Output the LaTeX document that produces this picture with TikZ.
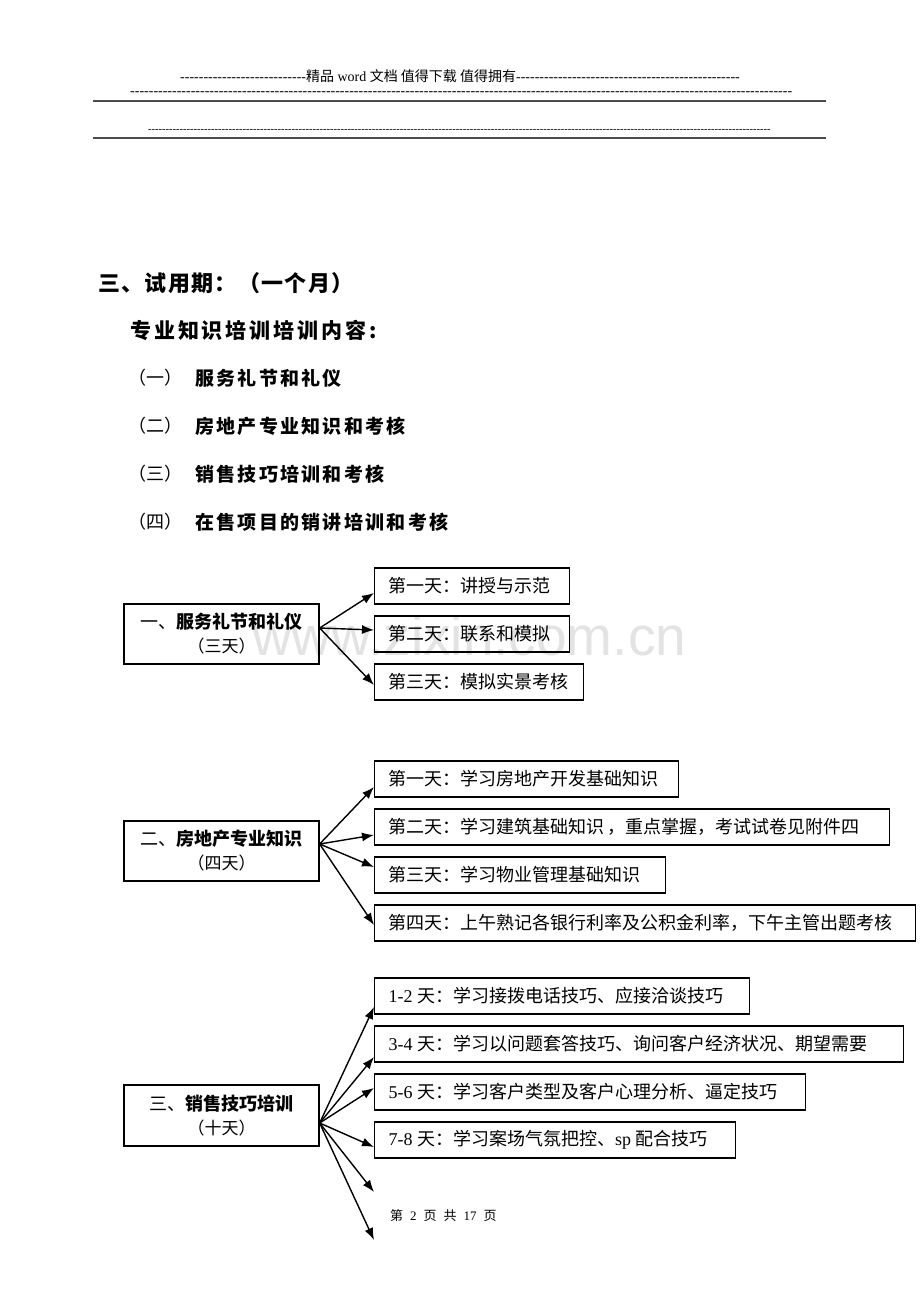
\documentclass[tikz,border=0pt]{standalone}
\usepackage{fontspec}
\setmainfont{Liberation Serif}
\newfontfamily\cjk{Noto Sans CJK SC}
\newfontfamily\wmfont{Liberation Sans}
\usetikzlibrary{arrows.meta}
\newcommand\dashrun[1]{\foreach \i in {1,...,#1}{-\kern0pt}}
\begin{document}
\begin{tikzpicture}[x=1pt,y=-1pt,
  txt/.style={inner sep=0pt, anchor=west, font=\cjk},
  hdr/.style={inner sep=0pt, anchor=base west},
  rule/.style={line width=2pt, draw=black!70},
  rbox/.style={draw, line width=1.3pt, minimum height=36pt, inner xsep=14pt, inner ysep=0pt, anchor=west, font=\cjk\fontsize{18}{22}\selectfont},
  lbox/.style={draw, line width=1.3pt, minimum width=195pt, minimum height=60pt, inner sep=0pt, align=center, font=\cjk\fontsize{18}{24}\selectfont},
  arr/.style={-{Latex[length=12pt,width=9pt]}, line width=1.4pt}]
\path[use as bounding box, fill=white] (0,0) rectangle (920,1302);

% watermark
\node[anchor=base west, inner sep=0pt, text=black!11, font=\wmfont\fontsize{55}{55}\selectfont] (wm) at (252,655) {www.zixin.com.cn};

% header
\node[hdr, font=\fontsize{14}{14}\selectfont] (h1) at (180,81) {\dashrun{27}{\cjk 精品} word {\cjk 文档 值得下载 值得拥有}\dashrun{48}};
\node[hdr, font=\fontsize{14}{14}\selectfont] (h2) at (130,95) {\dashrun{142}};
\draw[rule] (93,101) -- (826,101);
\node[hdr, font=\fontsize{10.5}{10.5}\selectfont] (h3) at (148,132.5) {\dashrun{178}};
\draw[rule] (93,138) -- (826,138);

% titles
\node[txt, font=\cjk\bfseries\fontsize{22}{22}\selectfont\addfontfeature{LetterSpace=6}] (t1) at (98,283) {三、试用期：（一个月）};
\node[txt, font=\cjk\bfseries\fontsize{21}{21}\selectfont\addfontfeature{LetterSpace=14}] (t2) at (130,330) {专业知识培训培训内容:};
\foreach \n/\y/\s in {一/378/服务礼节和礼仪, 二/426/房地产专业知识和考核, 三/474/销售技巧培训和考核, 四/522/在售项目的销讲培训和考核}{
  \node[txt, font=\cjk\fontsize{18}{18}\selectfont] (n\n) at (128,\y) {（\n）};
  \node[txt, font=\cjk\bfseries\fontsize{19}{19}\selectfont\addfontfeature{LetterSpace=12}] (s\n) at (195,\y) {\s};
}

% group 1
\node[lbox] (g1) at (221.5,634) {一、{\bfseries 服务礼节和礼仪}\\{\fontsize{17}{24}\selectfont （三天）}};
\node[rbox] (a1) at (374,586) {\makebox[167pt][l]{第一天：讲授与示范}};
\node[rbox] (a2) at (374,634) {\makebox[167pt][l]{第二天：联系和模拟}};
\node[rbox] (a3) at (374,682) {\makebox[181pt][l]{第三天：模拟实景考核}};
\draw[arr] ([yshift=6pt]g1.east) -- ([yshift=-7pt]a1.west);
\draw[arr] ([yshift=6pt]g1.east) -- ([yshift=4pt]a2.west);
\draw[arr] ([yshift=6pt]g1.east) -- ([yshift=-3pt]a3.west);

% group 2
\node[lbox] (g2) at (221.5,851) {二、{\bfseries 房地产专业知识}\\{\fontsize{17}{24}\selectfont （四天）}};
\node[rbox] (b1) at (374,779) {\makebox[276pt][l]{第一天：学习房地产开发基础知识}};
\node[rbox] (b2) at (374,827) {\makebox[487pt][l]{第二天：学习建筑基础知识\,，重点掌握，考试试卷见附件四}};
\node[rbox] (b3) at (374,875) {\makebox[263pt][l]{第三天：学习物业管理基础知识}};
\node[rbox] (b4) at (374,923) {\makebox[513pt][l]{第四天：上午熟记各银行利率及公积金利率，下午主管出题考核}};
\draw[arr] ([yshift=7pt]g2.east) -- ([yshift=-8pt]b1.west);
\draw[arr] ([yshift=7pt]g2.east) -- ([yshift=-8pt]b2.west);
\draw[arr] ([yshift=7pt]g2.east) -- ([yshift=8pt]b3.west);
\draw[arr] ([yshift=7pt]g2.east) -- ([yshift=-2pt]b4.west);

% group 3
\node[lbox, minimum height=61pt] (g3) at (221.5,1115.5) {三、{\bfseries 销售技巧培训}\\{\fontsize{17}{24}\selectfont （十天）}};
\node[rbox] (c1) at (374,996) {\makebox[347pt][l]{{\rmfamily 1-2 }天：学习接拨电话技巧、应接洽谈技巧}};
\node[rbox] (c2) at (374,1044) {\makebox[501pt][l]{{\rmfamily 3-4 }天：学习以问题套答技巧、询问客户经济状况、期望需要}};
\node[rbox] (c3) at (374,1092) {\makebox[403pt][l]{{\rmfamily 5-6 }天：学习客户类型及客户心理分析、逼定技巧}};
\node[rbox] (c4) at (374,1140) {\makebox[333pt][l]{{\rmfamily 7-8 }天：学习案场气氛把控、{\rmfamily sp }配合技巧}};
\coordinate (e5) at (374,1192);
\coordinate (e6) at (374,1240);
\draw[arr] ([yshift=-7.5pt]g3.east) -- ([yshift=-11pt]c1.west);
\draw[arr] ([yshift=-7.5pt]g3.east) -- ([yshift=-13pt]c2.west);
\draw[arr] ([yshift=-7.5pt]g3.east) -- ([yshift=4pt]c3.west);
\draw[arr] ([yshift=-7.5pt]g3.east) -- ([yshift=-7pt]c4.west);
\draw[arr] ([yshift=-7.5pt]g3.east) -- (e5);
\draw[arr] ([yshift=-7.5pt]g3.east) -- (e6);

% footer
\node[txt, font=\cjk\fontsize{13}{13}\selectfont] (ft) at (390,1216) {第\hspace{7pt}{\rmfamily 2}\hspace{7pt}页\hspace{7pt}共\hspace{7pt}{\rmfamily 17}\hspace{7pt}页};
\end{tikzpicture}
\end{document}
